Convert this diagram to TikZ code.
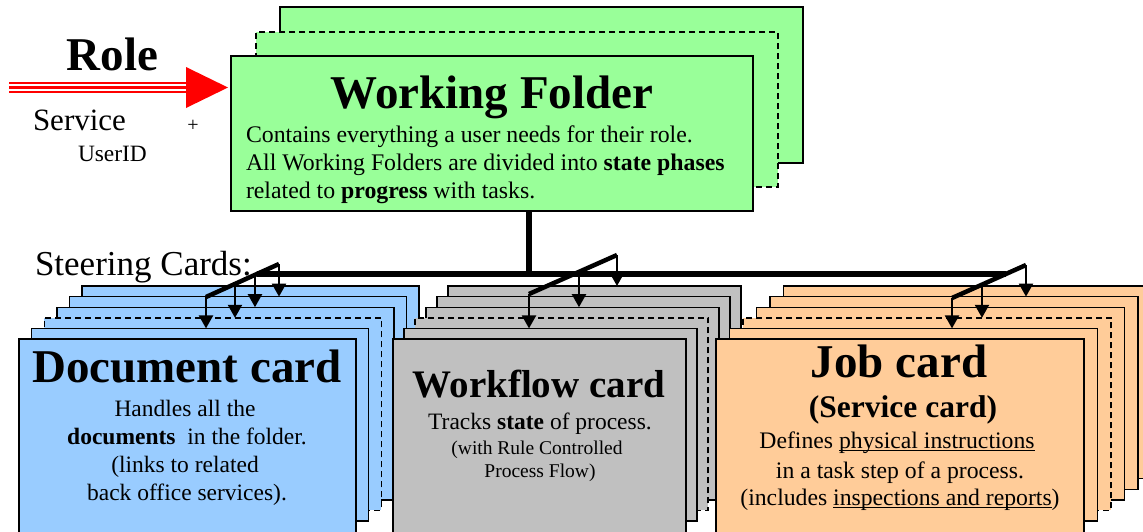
\documentclass[tikz,border=0pt]{standalone}
\usepackage{fontspec}
\setmainfont{Liberation Serif}
\usetikzlibrary{arrows.meta,calc}
\definecolor{foldgreen}{HTML}{99FF99}
\definecolor{docblue}{HTML}{99CCFF}
\definecolor{flowgray}{HTML}{C0C0C0}
\definecolor{joborange}{HTML}{FFCC99}
\tikzset{
  cardbox/.style={draw=black, line width=1.4pt, anchor=north west, inner sep=0pt, outer sep=0pt},
  solidbox/.style={cardbox},
  dashbox/.style={cardbox, dash pattern=on 6pt off 4pt},
  txt/.style={inner sep=0pt, outer sep=0pt, anchor=base, text=black},
  feed/.style={line width=2.2pt, -{Triangle[width=14pt,length=13pt]}},
  slant/.style={line width=4.5pt},
  trunk/.style={line width=5.8pt},
  redline/.style={red, line width=2.3pt},
}
\newcommand{\fs}[1]{\fontsize{#1}{#1}\selectfont}
\newcommand{\ulpp}[1]{\setbox0=\hbox{#1}\rlap{\rule[-3pt]{\wd0}{1.3pt}}\box0}
% one card of a stack: prefix, k, front left, width, step, style
\newcommand{\onecard}[6]{%
  \pgfmathsetmacro{\cxl}{#3+#2*#5}%
  \pgfmathsetmacro{\cyt}{339-#2*10.6}%
  \pgfmathsetmacro{\cht}{192.6+(#2==0)*20}%
  \node[#6, minimum width=#4pt, minimum height=\cht pt] (#1#2) at (\cxl,\cyt) {};}
\newcommand{\cardstack}[5]{% prefix, front left, width, step, colour
  \onecard{#1}{5}{#2}{#3}{#4}{solidbox,fill=#5}
  \onecard{#1}{4}{#2}{#3}{#4}{solidbox,fill=#5}
  \onecard{#1}{3}{#2}{#3}{#4}{solidbox,fill=#5}
  \onecard{#1}{2}{#2}{#3}{#4}{dashbox,fill=#5}
  \onecard{#1}{1}{#2}{#3}{#4}{solidbox,fill=#5}
  \onecard{#1}{0}{#2}{#3}{#4}{solidbox,fill=#5}}
\begin{document}
\begin{tikzpicture}[x=1pt,y=-1pt]
\useasboundingbox (0,0) rectangle (1143,531);
\clip (0,0) rectangle (1143,531);

% Working folder stack
\node[solidbox, fill=foldgreen, minimum width=523pt, minimum height=156pt] (fold2) at (280,7) {};
\node[dashbox, fill=foldgreen, minimum width=522pt, minimum height=155pt] (fold1) at (256,32) {};
\node[solidbox, fill=foldgreen, minimum width=522pt, minimum height=155pt] (fold0) at (231,56) {};

\node[txt, font=\fs{47}\bfseries] (foldtitle) at (492,108) {Working Folder};
\node[txt, anchor=base west, font=\fs{23.8}] (foldl1) at (246,142) {Contains everything a user needs for their role.};
\node[txt, anchor=base west, font=\fs{23.8}] (foldl2) at (246,170) {All Working Folders are divided into \textbf{state phases}};
\node[txt, anchor=base west, font=\fs{23.8}] (foldl3) at (246,198) {related to \textbf{progress} with tasks.};

% Role arrow
\node[txt, font=\fs{47}\bfseries] (role) at (112.5,70) {Role};
\node[txt, anchor=base west, font=\fs{31}] (service) at (33,130) {Service};
\node[txt, font=\fs{20}] (plus) at (193,131.5) {+};
\node[txt, anchor=base west, font=\fs{23.4}] (userid) at (78,161) {UserID};
\coordinate (rs) at (9,87.5);
\coordinate (rb) at (186,87.5);
\coordinate (rt) at ($(rs -| fold0.west)+(-3,0)$);
\draw[redline] ($(rs)+(0,-4.6)$) -- ($(rb)+(2,-4.6)$);
\draw[redline] (rs) -- ($(rb)+(2,0)$);
\draw[redline] ($(rs)+(0,4.6)$) -- ($(rb)+(2,4.6)$);
\fill[red] (rt) -- ($(rb)+(0,-20.5)$) -- ($(rb)+(0,20.5)$) -- cycle;

% Steering cards
\node[txt, anchor=base west, font=\fs{35}] (steer) at (35,275) {Steering Cards:};

\cardstack{doc}{19}{337}{12.6}{docblue}
\cardstack{flow}{393}{293}{11}{flowgray}
\cardstack{job}{716}{368}{13.5}{joborange}

% Document card text
\node[txt, font=\fs{47}\bfseries] (doctitle) at (187,382) {Document card};
\node[txt, font=\fs{23.5}] (docl1) at (185,416) {Handles all the};
\node[txt, font=\fs{23.5}] (docl2) at (187,444) {\textbf{documents}\ \ in the folder.};
\node[txt, font=\fs{23.5}] (docl3) at (185,472) {(links to related};
\node[txt, font=\fs{23.5}] (docl4) at (187,500) {back office services).};

% Workflow card text
\node[txt, font=\fs{39}\bfseries] (flowtitle) at (539,397) {Workflow card};
\node[txt, font=\fs{23.5}] (flowl1) at (540,429) {Tracks \textbf{state} of process.};
\node[txt, font=\fs{19.5}] (flowl2) at (537,454) {(with Rule Controlled};
\node[txt, font=\fs{19.5}] (flowl3) at (540,477) {Process Flow)};

% Job card text
\node[txt, font=\fs{47}\bfseries] (jobtitle) at (899,377) {Job card};
\node[txt, font=\fs{31.5}\bfseries] (jobsub) at (903,417) {(Service card)};
\node[txt, font=\fs{23.7}] (jobl1) at (897,448) {Defines \ulpp{physical instructions}};
\node[txt, font=\fs{23.7}] (jobl2) at (900,478) {in a task step of a process.};
\node[txt, font=\fs{23.7}] (jobl3) at (900,505) {(includes \ulpp{inspections and reports})};

% connectors
\coordinate (dA) at (206,297);
\coordinate (dB) at (279,264);
\coordinate (fA) at (529,294);
\coordinate (fB) at (617,255);
\coordinate (jA) at (952,298);
\coordinate (jB) at (1026,265);
\coordinate (hL) at ($(dA)!0.697!(dB)$);
\coordinate (hR) at ($(jA)!0.727!(jB)$);
\coordinate (hJ) at (529,274);

\draw[trunk] (hL) -- (hR);
\draw[trunk] (hJ) -- (hJ |- fold0.south);

\draw[slant] (dA) -- (dB);
\coordinate (d2) at ($(dA)!0.397!(dB)$);
\coordinate (d3) at ($(dA)!0.671!(dB)$);
\draw[feed] (dA) -- (dA |- doc1.north);
\draw[feed] (d2) -- (d2 |- doc2.north);
\draw[feed] (d3) -- (d3 |- doc3.north);
\draw[feed] (dB) -- (dB |- doc4.north);

\draw[slant] (fA) -- (fB);
\coordinate (f2) at ($(fA)!0.568!(fB)$);
\draw[feed] (fA) -- (fA |- flow1.north);
\draw[feed] (f2) -- (f2 |- flow3.north);
\draw[feed] (fB) -- (fB |- flow5.north);

\draw[slant] (jA) -- (jB);
\coordinate (j2) at ($(jA)!0.405!(jB)$);
\draw[feed] (jA) -- (jA |- job1.north);
\draw[feed] (j2) -- (j2 |- job2.north);
\draw[feed] (jB) -- (jB |- job4.north);
\end{tikzpicture}
\end{document}
